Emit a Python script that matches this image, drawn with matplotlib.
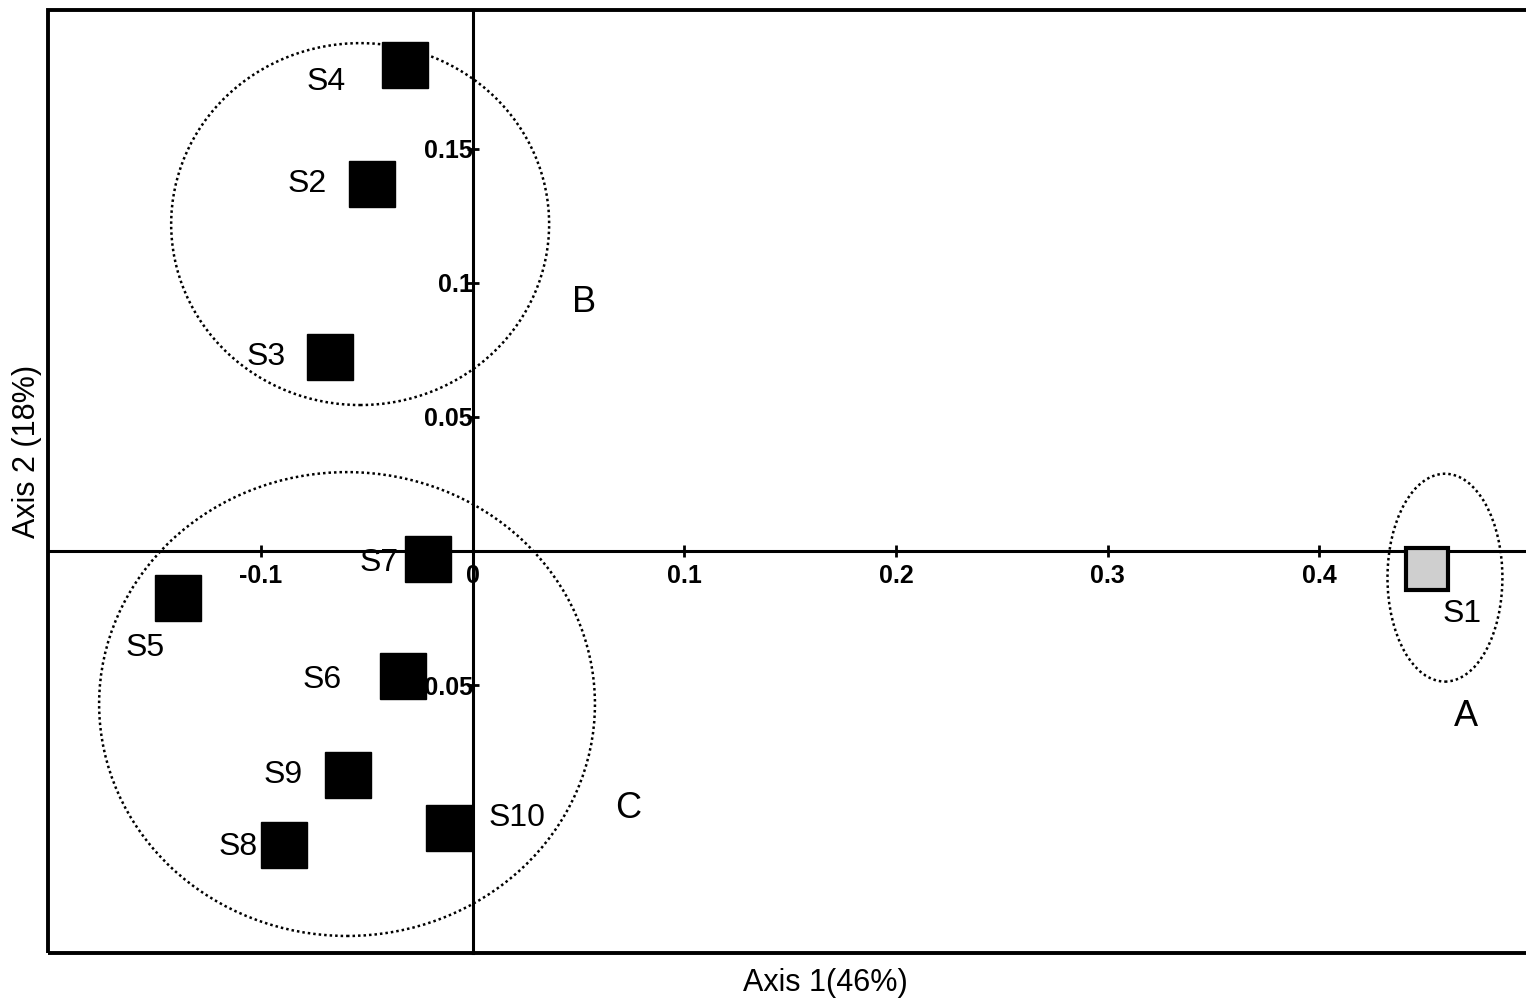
import numpy as np
import matplotlib.pyplot as plt
from matplotlib.patches import Ellipse, Rectangle

plt.rcParams['font.family'] = ['Liberation Sans', 'DejaVu Sans']

# --- data ---
sites = ["S1", "S2", "S3", "S4", "S5", "S6", "S7", "S8", "S9", "S10"]
axis1 = [0.451, -0.0477, -0.0674, -0.0318, -0.1391, -0.0329, -0.0213, -0.0891, -0.0589, -0.0112]
axis2 = [-0.0066, 0.1368, 0.0723, 0.1813, -0.0175, -0.0464, -0.0029, -0.1096, -0.0835, -0.1032]

# label offsets in pixels (dx, dy) from the point
label_offsets = {
    "S1": (35, -45), "S2": (-65, 0), "S3": (-64, 0), "S4": (-79, -17),
    "S5": (-33, -50), "S6": (-81, -4), "S7": (-49, -4), "S8": (-46, -2),
    "S9": (-65, 0), "S10": (68, 10),
}

groups = ["A", "B", "C"]
group_center_x = [0.4594, -0.0532, -0.0594]
group_center_y = [-0.0099, 0.1219, -0.0570]
group_width = [0.0543, 0.1786, 0.2343]
group_height = [0.0775, 0.1349, 0.1729]
group_label_x = [0.4694, 0.0525, 0.0735]
group_label_y = [-0.0615, 0.0925, -0.0960]

xticks = [-0.1, 0, 0.1, 0.2, 0.3, 0.4]
xtick_labels = ["-0.1", "0", "0.1", "0.2", "0.3", "0.4"]
yticks = [-0.05, 0.05, 0.1, 0.15]
ytick_labels = ["-0.05", "0.05", "0.1", "0.15"]

fig = plt.figure(figsize=(15.26, 9.99), dpi=100)
ax = fig.add_axes([48 / 1526, 46 / 999, (1526 - 48) / 1526, (953 - 10) / 999])
ax.set_xlim(-0.2007, 0.4977)
ax.set_ylim(-0.1498, 0.2017)

# axes through the origin
for s in ["top", "right"]:
    ax.spines[s].set_visible(False)
ax.spines["left"].set_position(("data", 0))
ax.spines["bottom"].set_position(("data", 0))
ax.spines["left"].set_linewidth(2.2)
ax.spines["bottom"].set_linewidth(2.2)

# outer frame
ax.add_patch(Rectangle((0, 0), 1.02, 1, transform=ax.transAxes, fill=False,
                       lw=2.8, edgecolor="black", clip_on=False, zorder=1))

ax.set_xticks(xticks)
ax.set_xticklabels(xtick_labels, fontsize=18, fontweight="bold")
ax.set_yticks(yticks)
ax.set_yticklabels(ytick_labels, fontsize=18, fontweight="bold")
ax.tick_params(axis="x", direction="inout", length=8, width=2, pad=5)
ax.tick_params(axis="y", direction="inout", length=8, width=2, pad=-4)

# ellipses
for cx, cy, w, h in zip(group_center_x, group_center_y, group_width, group_height):
    ax.add_patch(Ellipse((cx, cy), w, h, fill=False, edgecolor="black",
                         linestyle=(0, (1, 1.2)), lw=1.8, zorder=2))
for g, gx, gy in zip(groups, group_label_x, group_label_y):
    ax.text(gx, gy, g, fontsize=26, ha="center", va="center")

# points
for name, x, y in zip(sites, axis1, axis2):
    if name == "S1":
        ax.plot(x, y, marker="s", markersize=30, markerfacecolor="#cfcfcf",
                markeredgecolor="black", markeredgewidth=3, zorder=5)
    else:
        ax.plot(x, y, marker="s", markersize=33, color="black", zorder=5)
    dx, dy = label_offsets[name]
    ax.annotate(name, (x, y), xytext=(dx / 1.389, dy / 1.389), textcoords="offset points",
                fontsize=23, ha="center", va="center", zorder=6)

fig.text(825 / 1526, 1 - 983 / 999, "Axis 1(46%)", fontsize=22, ha="center", va="center")
fig.text(27 / 1526, 1 - 451 / 999, "Axis 2 (18%)", fontsize=22, ha="center", va="center",
         rotation=90)

fig.savefig("out.png", dpi=100, facecolor="white")
